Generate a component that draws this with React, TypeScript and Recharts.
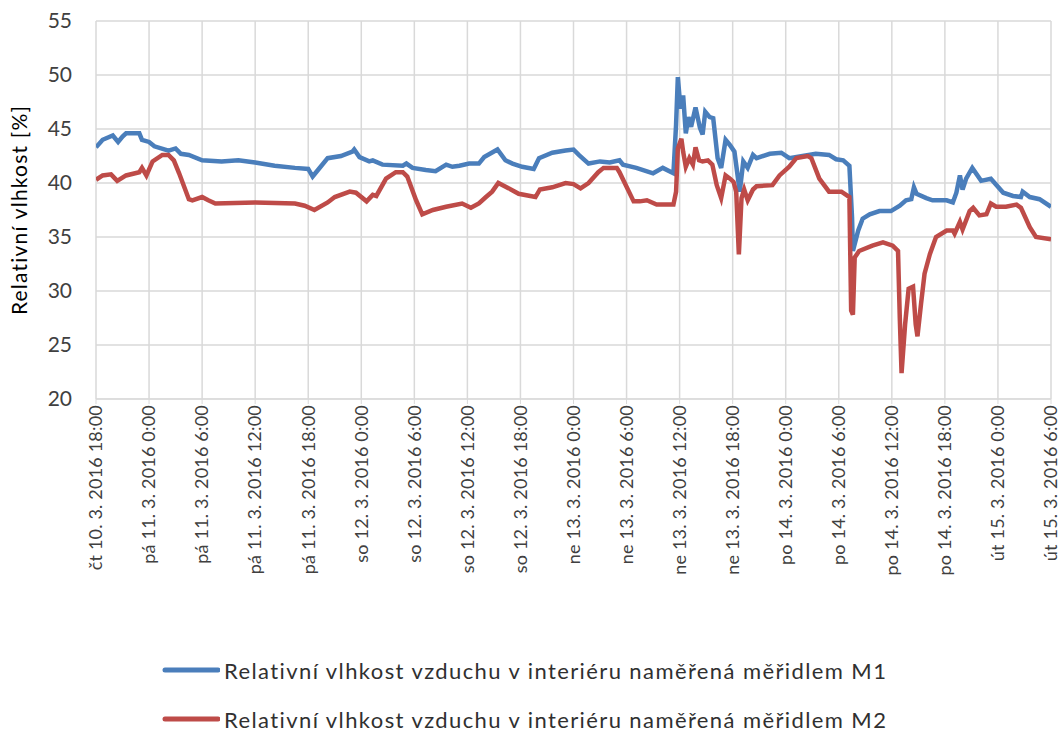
import { LineChart, Line, XAxis, YAxis, CartesianGrid, Legend } from 'recharts'

// hours since čt 10. 3. 2016 18:00
const hoursM1 = [
  0, 0.75, 1.9, 2.5, 3, 3.4, 4.9, 5.2, 6, 6.6, 8.2, 9, 9.6, 10.5, 12, 14.2, 16.1, 18, 20.2, 22.5,
  24, 24.5, 25.1, 26.2, 27.7, 29, 29.2, 29.8, 30.9, 31.3, 32.4, 34.7, 35.1, 35.8, 37.3, 38.4, 39.6,
  40.3, 41.1, 42.2, 43.3, 43.9, 45.4, 46.3, 47.1, 48.2, 49.5, 50.1, 51.6, 53.1, 54, 54.6, 55.7, 57,
  58.1, 59.2, 59.6, 61.1, 63, 64.1, 65.3, 65.6, 65.8, 66.1, 66.4, 66.7, 67, 67.3, 67.8, 68.3, 68.6,
  68.9, 69.4, 69.8, 70.3, 70.7, 71.2, 71.7, 72.2, 72.8, 73.2, 73.7, 74.3, 74.7, 76.2, 77.5, 78.4,
  79.9, 81.4, 82.9, 83.7, 84.5, 85.2, 85.5, 85.6, 86.2, 86.7, 87.5, 88.6, 89.9, 90.9, 91.6, 92.2,
  92.5, 92.8, 93.9, 94.6, 96.2, 96.9, 97.3, 97.7, 98, 98.4, 99.1, 100.1, 101.2, 102.6, 103.7, 104.6,
  104.8, 105.6, 106.7, 108,
]
const valuesM1 = [
  43.3, 44.0, 44.4, 43.8, 44.3, 44.6, 44.6, 44.0, 43.8, 43.4, 43.0, 43.2, 42.7, 42.6, 42.1, 42.0, 42.1, 41.9, 41.6, 41.4,
  41.3, 40.6, 41.2, 42.3, 42.5, 42.9, 43.1, 42.4, 42.0, 42.1, 41.7, 41.6, 41.8, 41.4, 41.2, 41.1, 41.7,
  41.5, 41.6, 41.8, 41.8, 42.4, 43.1, 42.1, 41.8, 41.5, 41.3, 42.3, 42.8, 43.0, 43.1, 42.6, 41.8, 42.0,
  41.9, 42.1, 41.7, 41.4, 40.9, 41.4, 40.9, 45.4, 49.8, 46.9, 48.1, 44.6, 46.1, 45.2, 47.0, 45.1, 44.5,
  46.6, 46.1, 46.0, 42.3, 41.4, 44.0, 43.5, 42.9, 39.2, 42.0, 41.4, 42.6, 42.3, 42.7, 42.8, 42.3,
  42.5, 42.7, 42.6, 42.2, 42.1, 41.6, 36.8, 33.7, 35.6, 36.7, 37.1, 37.4, 37.4, 37.9, 38.4, 38.5,
  39.6, 39.0, 38.6, 38.4, 38.4, 38.2, 39.1, 40.7, 39.4, 40.4, 41.4, 40.2, 40.4, 39.1, 38.8, 38.7,
  39.2, 38.7, 38.5, 37.8,
]

const hoursM2 = [
  0, 0.75, 1.7, 2.4, 3.4, 4.9, 5.2, 5.7, 6.4, 7.5, 8.2, 8.8, 9.4, 10.5, 10.9, 12, 12.7, 13.5, 18, 22.5,
  23.6, 24.7, 26.2, 27, 28.7, 29.4, 30.6, 31.3, 31.7, 32.8, 33.9, 34.7, 35.2, 36.2, 36.9, 38.1, 39.6,
  41.4, 42.4, 43.3, 44.1, 44.8, 45.5, 46.7, 47.8, 49.7, 50.2, 51.6, 53.1, 54, 54.8, 55.7, 56.8, 57.4,
  58.9, 59.2, 60.8, 61.5, 62.3, 63.4, 65.3, 65.6, 65.8, 66.2, 66.4, 66.7, 67.1, 67.5, 67.8, 68.2, 68.6,
  69.2, 69.7, 70.2, 70.7, 71.2, 71.7, 72.1, 72.4, 72.7, 73, 73.3, 73.7, 74.3, 74.7, 76.5, 77.3, 78.4,
  79.2, 80.5, 80.9, 81.8, 82.9, 84.3, 85.2, 85.4, 85.6, 85.8, 86.3, 87.8, 89, 90.1, 90.7, 90.9, 91.1,
  91.5, 91.9, 92.4, 92.7, 92.9, 93.3, 93.7, 94.3, 95, 96.2, 96.9, 97.1, 97.7, 98, 98.8, 99.2, 99.9,
  100.7, 101.2, 101.8, 102.9, 104.1, 104.6, 105.6, 106.3, 108,
]
const valuesM2 = [
  40.3, 40.7, 40.8, 40.2, 40.7, 41.0, 41.4, 40.7, 42.0, 42.6, 42.6, 42.1, 40.9, 38.5, 38.4, 38.7, 38.4, 38.1, 38.2, 38.1,
  37.9, 37.5, 38.2, 38.7, 39.2, 39.1, 38.3, 38.9, 38.8, 40.4, 41.0, 41.0, 40.6, 38.4, 37.1, 37.5, 37.8,
  38.1, 37.7, 38.1, 38.7, 39.2, 40.0, 39.5, 39.0, 38.7, 39.4, 39.6, 40.0, 39.9, 39.5, 40.0, 41.0, 41.4,
  41.4, 41.0, 38.3, 38.3, 38.4, 38.0, 38.0, 39.2, 43.2, 44.1, 42.9, 41.5, 42.3, 41.7, 43.3, 42.1, 42.0,
  42.1, 41.7, 39.8, 38.6, 40.7, 40.4, 40.1, 39.2, 33.4, 38.6, 39.4, 38.4, 39.4, 39.7, 39.8, 40.7, 41.5,
  42.3, 42.5, 42.3, 40.4, 39.2, 39.2, 38.7, 28.2, 27.8, 33.1, 33.7, 34.2, 34.5, 34.2, 33.7, 27.5, 22.4,
  26.9, 30.2, 30.4, 26.9, 25.8, 28.8, 31.6, 33.4, 35.0, 35.6, 35.6, 35.3, 36.4, 35.7, 37.4, 37.7, 37.0,
  37.1, 38.1, 37.8, 37.8, 38.0, 37.7, 35.9, 35.0, 34.8,
]

const xTicks = [0, 6, 12, 18, 24, 30, 36, 42, 48, 54, 60, 66, 72, 78, 84, 90, 96, 102, 108]
const xLabels = [
  'čt 10. 3. 2016 18:00', 'pá 11. 3. 2016 0:00', 'pá 11. 3. 2016 6:00', 'pá 11. 3. 2016 12:00',
  'pá 11. 3. 2016 18:00', 'so 12. 3. 2016 0:00', 'so 12. 3. 2016 6:00', 'so 12. 3. 2016 12:00',
  'so 12. 3. 2016 18:00', 'ne 13. 3. 2016 0:00', 'ne 13. 3. 2016 6:00', 'ne 13. 3. 2016 12:00',
  'ne 13. 3. 2016 18:00', 'po 14. 3. 2016 0:00', 'po 14. 3. 2016 6:00', 'po 14. 3. 2016 12:00',
  'po 14. 3. 2016 18:00', 'út 15. 3. 2016 0:00', 'út 15. 3. 2016 6:00',
]
const yTicks = [20, 25, 30, 35, 40, 45, 50, 55]

const seriesNames = [
  'Relativní vlhkost vzduchu v interiéru naměřená měřidlem M1',
  'Relativní vlhkost vzduchu v interiéru naměřená měřidlem M2',
]
const colors = ['#4a7ebb', '#be4b48']

const dataM1 = hoursM1.map((h, i) => ({ h, v: valuesM1[i] }))
const dataM2 = hoursM2.map((h, i) => ({ h, v: valuesM2[i] }))

const FONT = 'Lato, "Open Sans", sans-serif'

function XTick({ x, y, payload }: any) {
  const idx = xTicks.indexOf(payload.value)
  return (
    <text
      transform={`translate(${x},${y - 1}) rotate(-90)`}
      textAnchor="end"
      dy="0.35em"
      fontSize={18}
      letterSpacing={0.2}
      fill="#404040"
      fontFamily={FONT}
    >
      {xLabels[idx]}
    </text>
  )
}

function LegendBox() {
  return (
    <div style={{ fontFamily: FONT, fontSize: 22, letterSpacing: 1.4, color: '#303030' }}>
      {seriesNames.map((name, i) => (
        <div key={name} style={{ display: 'flex', alignItems: 'center', height: 26, marginBottom: i === 0 ? 23 : 0 }}>
          <svg width={58} height={8} style={{ marginRight: 4 }}>
            <line x1={3} y1={4} x2={56} y2={4} stroke={colors[i]} strokeWidth={5} strokeLinecap="round" />
          </svg>
          <span style={{ whiteSpace: 'nowrap' }}>{name}</span>
        </div>
      ))}
    </div>
  )
}

export default function App() {
  return (
    <div style={{ position: 'absolute', left: 0, top: 0, background: '#fff' }}>
      <LineChart
        width={1063}
        height={733}
        margin={{ top: 21, right: 12, bottom: 0, left: 0 }}
        style={{ fontFamily: FONT }}
      >
        <CartesianGrid stroke="#d9d9d9" strokeWidth={1.5} />
        <XAxis
          dataKey="h"
          type="number"
          domain={[0, 108]}
          ticks={xTicks}
          allowDataOverflow
          height={334}
          stroke="#d9d9d9"
          tickSize={5}
          tick={<XTick />}
          interval={0}
        />
        <YAxis
          type="number"
          domain={[20, 55]}
          ticks={yTicks}
          width={96}
          axisLine={false}
          tickLine={false}
          tickMargin={18}
          tick={{ fontSize: 21, fill: '#404040' }}
          label={{
            value: 'Relativní vlhkost [%]',
            angle: -90,
            position: 'insideLeft',
            dx: 15,
            style: { textAnchor: 'middle', fontSize: 21, letterSpacing: 1.2, fill: '#000' },
          }}
        />
        <Line data={dataM1} dataKey="v" type="linear" stroke={colors[0]} strokeWidth={4.5} dot={false} isAnimationActive={false} name={seriesNames[0]} />
        <Line data={dataM2} dataKey="v" type="linear" stroke={colors[1]} strokeWidth={4.5} dot={false} isAnimationActive={false} name={seriesNames[1]} />
        <Legend
          layout="vertical"
          align="center"
          verticalAlign="middle"
          content={<LegendBox />}
          wrapperStyle={{ top: 657, left: 162, width: 'auto' }}
        />
      </LineChart>
    </div>
  )
}
